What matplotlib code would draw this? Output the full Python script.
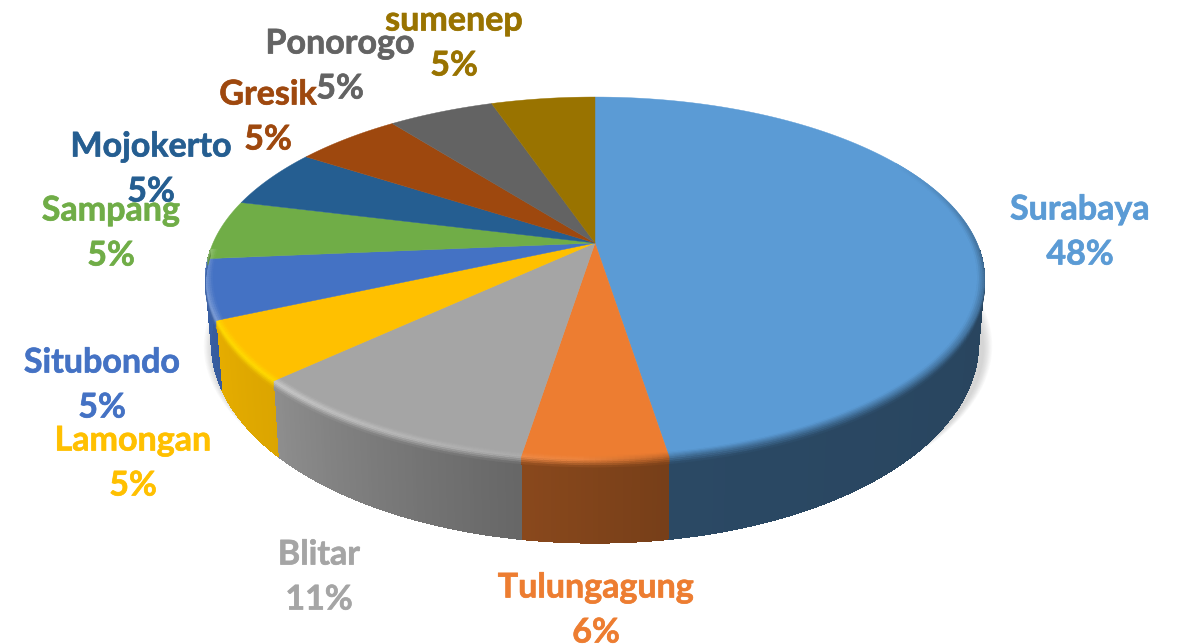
import numpy as np
import matplotlib
matplotlib.use("Agg")
import matplotlib.pyplot as plt
import matplotlib.patheffects as pe
from matplotlib.colors import to_rgb

# labels as printed, slices as they are drawn in the picture
names = ["Surabaya", "Tulungagung", "Blitar", "Lamongan", "Situbondo",
         "Sampang", "Mojokerto", "Gresik", "Ponorogo", "sumenep"]
pct_labels = ["48%", "6%", "11%", "5%", "5%", "5%", "5%", "5%", "5%", "5%"]
shares = [47.5, 5.0, 10.5, 5.3, 5.3, 5.3, 5.3, 5.3, 5.3, 5.2]
colors = ["#5B9BD5", "#ED7D31", "#A5A5A5", "#FFC000", "#4472C4",
          "#70AD47", "#255E91", "#9E480E", "#636363", "#997300"]
label_x = [1080, 596, 319, 133, 102, 111, 151, 268, 340, 454]
label_y = [232, 610, 577, 463, 385, 233, 169, 117, 66, 43]

# wall darkening at start and end of each slice
wall_a = [0.40, 0.50, 0.62, 0.86, 0.80, 0.8, 0.8, 0.8, 0.8, 0.8]
wall_b = [0.47, 0.58, 0.86, 0.90, 0.85, 0.8, 0.8, 0.8, 0.8, 0.8]

cx, cy = 595, 243
R, k, c = 382, 174.6, 0.196


def proj(x, y, scale=1.0):
    # unit disc -> picture, far edge shrunk for the perspective
    w = 1 + c * y
    return cx + R * scale * x / w, cy - k * scale * y / w


def mix(a, b, w):
    return tuple(np.array(a) * (1 - w) + np.array(b) * w)


def depth(y):
    return 60 + 23 * np.clip(-y, 0, 1)


fig = plt.figure(figsize=(11.77, 6.44), dpi=100)
ax = fig.add_axes([0, 0, 1, 1])
ax.set_xlim(0, 1177)
ax.set_ylim(644, 0)
ax.axis("off")

# soft shadow
tt = np.radians(np.linspace(0, 360, 361))
for i in range(12):
    sx, sy = proj(np.sin(tt), np.cos(tt), 1.012 - i * 0.002)
    ax.fill(sx + 3, sy + 67 + i * 0.3, color="#7a7a7a", alpha=0.027, lw=0)

edges = np.cumsum([0] + shares) / sum(shares) * 360


def wall_col(i, a):
    u = (a - edges[i]) / (edges[i + 1] - edges[i])
    f = wall_a[i] + (wall_b[i] - wall_a[i]) * u
    return tuple(np.array(to_rgb(colors[i])) * f)


def edge_col(i, a):
    base = to_rgb(colors[i])
    if colors[i] == "#FFC000":
        return mix(base, (1.0, 0.87, 0.0), 0.9)
    h = np.interp(a, [175, 192, 225, 262], [0.05, 0.12, 0.42, 0.25])
    w = np.clip((a - 168) / 14, 0, 1)
    return mix(mix(base, wall_col(i, a), 0.5), mix(base, (1, 1, 1), h), w)


# side wall, one whole slice first so the strips leave no seams
for i in range(len(shares)):
    a0, a1 = max(edges[i], 92), min(edges[i + 1], 268)
    if a1 <= a0:
        continue
    steps = np.linspace(a0, a1, max(int((a1 - a0) * 2), 2))
    t = np.radians(steps)
    x, y = np.sin(t), np.cos(t)
    px, py = proj(x, y)
    bx = cx + (px - cx) * 0.985
    by = py + depth(y)
    ax.fill(np.r_[px, bx[::-1]], np.r_[py, by[::-1]],
            color=wall_col(i, (a0 + a1) / 2), lw=0)
    for j in range(len(steps) - 1):
        ax.fill([px[j], px[j + 1], bx[j + 1], bx[j]], [py[j], py[j + 1], by[j + 1], by[j]],
                color=wall_col(i, (steps[j] + steps[j + 1]) / 2), lw=0, antialiased=False)

# top face
for i in range(len(shares)):
    t = np.radians(np.linspace(edges[i], edges[i + 1], 120))
    px, py = proj(np.sin(t), np.cos(t))
    ax.fill(np.r_[cx, px], np.r_[cy, py], color=colors[i], lw=0.3)

# soft rim between face and wall
bands = np.linspace(0, 1, 9)
for i in range(len(shares)):
    a0, a1 = max(edges[i], 60), min(edges[i + 1], 268)
    if a1 <= a0:
        continue
    steps = np.linspace(a0, a1, max(int((a1 - a0) * 1.5), 2))
    for s0, s1 in zip(steps[:-1], steps[1:]):
        am = (s0 + s1) / 2
        t = np.radians([s0, s1])
        x, y = np.sin(t), np.cos(t)
        fade = np.clip((am - 60) / 30, 0, 1)
        base = to_rgb(colors[i])
        ec = mix(base, edge_col(i, am), fade)
        wc = wall_col(i, am)
        for b0, b1 in zip(bands[:-1], bands[1:]):
            pts = []
            for b in (b0, b1):
                r = 0.982 + 0.018 * min(b / 0.5, 1)
                qx, qy = proj(x * r, y * r)
                pts.append((qx, qy + max(b - 0.5, 0) / 0.5 * 7 * (am > 92)))
            bm = (b0 + b1) / 2
            if bm < 0.5:
                col = mix(base, ec, bm / 0.5)
            else:
                col = mix(ec, wc if am > 92 else ec, (bm - 0.5) / 0.5)
            if bm > 0.5 and am <= 92:
                continue
            ax.fill(np.r_[pts[0][0], pts[1][0][::-1]], np.r_[pts[0][1], pts[1][1][::-1]],
                    color=col, lw=0.3)

for i in range(len(names)):
    ax.text(label_x[i], label_y[i], names[i] + "\n" + pct_labels[i], color=colors[i],
            fontsize=24.5, fontweight="bold", family="Lato", ha="center", va="center",
            linespacing=1.5, alpha=0.95,
            path_effects=[pe.withStroke(linewidth=0.5, foreground=colors[i])])

fig.savefig("out.png", dpi=100)
